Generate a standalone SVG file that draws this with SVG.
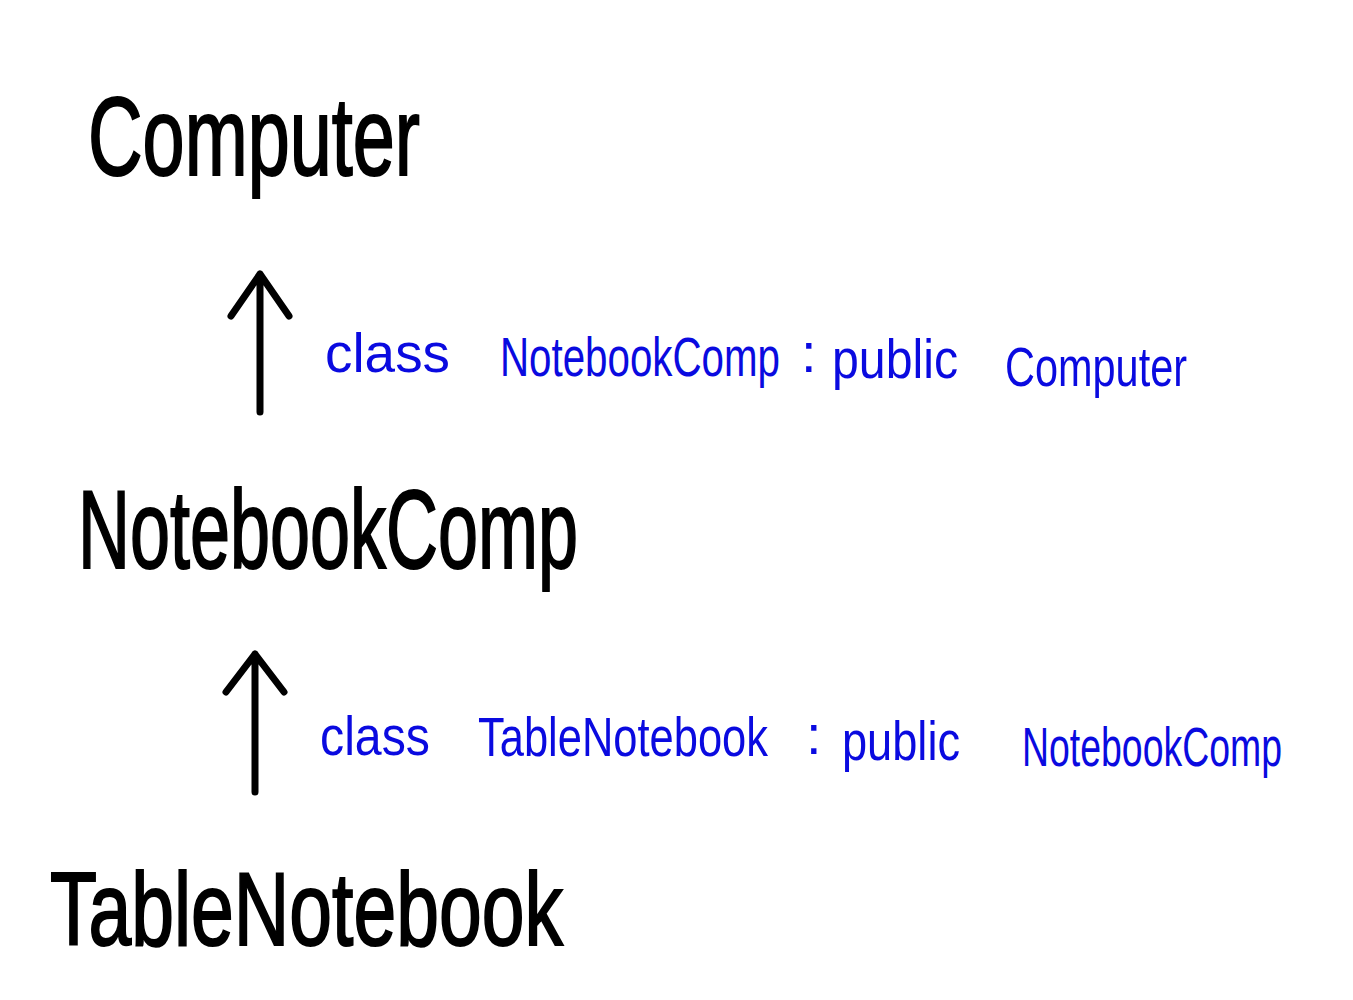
<svg xmlns="http://www.w3.org/2000/svg" width="1353" height="1000" viewBox="0 0 1353 1000">
<style>
.big{font-family:"Liberation Sans",Arial,sans-serif;fill:#000;stroke:#000;stroke-width:2}
.code{font-family:"Liberation Sans",Arial,sans-serif;fill:#0a0ae0;font-size:56px}
.arrow{fill:none;stroke:#000;stroke-width:7;stroke-linecap:round;stroke-linejoin:round}
</style>
<rect width="1353" height="1000" fill="#fff"/>
<g id="computer"><text class="big" x="88" y="175" font-size="112" textLength="332" lengthAdjust="spacingAndGlyphs">Computer</text></g>
<g id="notebookcomp"><text class="big" x="78" y="568" font-size="112" textLength="500" lengthAdjust="spacingAndGlyphs">NotebookComp</text></g>
<g id="tablenotebook"><text class="big" x="50" y="945" font-size="104" textLength="513" lengthAdjust="spacingAndGlyphs">TableNotebook</text></g>
<g id="connectors">
<path class="arrow" d="M260,412 V274 M231,316 L260,274 L289,316"/>
<path class="arrow" d="M255,792 V654 M226,692 L255,654 L284,692"/>
</g>
<g id="label1">
<text class="code" x="325" y="372" textLength="125" lengthAdjust="spacingAndGlyphs">class</text>
<text class="code" x="500" y="376" textLength="280" lengthAdjust="spacingAndGlyphs">NotebookComp</text>
<text class="code" x="801" y="372" font-size="44">:</text>
<text class="code" x="832" y="378" textLength="126" lengthAdjust="spacingAndGlyphs">public</text>
<text class="code" x="1005" y="386" textLength="182" lengthAdjust="spacingAndGlyphs">Computer</text>
</g>
<g id="label2">
<text class="code" x="320" y="755" textLength="110" lengthAdjust="spacingAndGlyphs">class</text>
<text class="code" x="478" y="756" textLength="290" lengthAdjust="spacingAndGlyphs">TableNotebook</text>
<text class="code" x="806" y="754" font-size="44">:</text>
<text class="code" x="842" y="760" textLength="118" lengthAdjust="spacingAndGlyphs">public</text>
<text class="code" x="1022" y="766" textLength="260" lengthAdjust="spacingAndGlyphs">NotebookComp</text>
</g>
</svg>
